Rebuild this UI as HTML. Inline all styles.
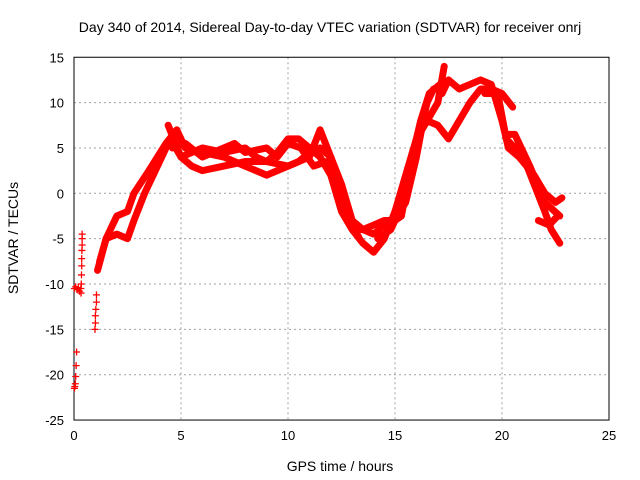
<!DOCTYPE html>
<html><head><meta charset="utf-8"><style>
body{margin:0;background:#fff}
svg{display:block;font-family:"Liberation Sans",sans-serif}
</style></head><body>
<svg id="chart" width="640" height="480" xmlns="http://www.w3.org/2000/svg">
<rect width="640" height="480" fill="#fff"/>
<text x="330" y="32" font-size="14" text-anchor="middle">Day 340 of 2014, Sidereal Day-to-day VTEC variation (SDTVAR) for receiver onrj</text>
<text x="340" y="471" font-size="14" text-anchor="middle">GPS time / hours</text>
<text transform="translate(18,238) rotate(-90)" font-size="14" text-anchor="middle">SDTVAR / TECUs</text>
<g id="grid"></g><g id="axes"></g><g id="marks"></g>
</svg>
<script>
const xTicks=[0,5,10,15,20,25];
const yTicks=[15,10,5,0,-5,-10,-15,-20,-25];
const trace1=[[1.2,-7.5],[1.5,-5],[2,-4.5],[2.5,-5],[2.8,-3],[3.3,0],[3.8,2.5],[4.2,4.5],[4.5,6],[5,4],[5.5,4.5],[6,5],[7,4.5],[8,5],[8.5,4],[9,3.5],[9.5,4.5],[10,6],[10.5,6],[11,5],[11.5,4],[12,2],[12.5,-2],[13,-4],[13.5,-5.5],[14,-6.5],[14.5,-5],[15,-2],[15.5,2],[16,6],[16.5,8],[17,10],[17.3,14]];
const trace2=[[1.1,-8.5],[1.5,-5],[2,-2.5],[2.5,-2],[2.8,0],[3.5,2.5],[4.3,5.5],[4.8,7],[5.2,5],[6,4.5],[7,4],[8,3],[9,2],[10,3],[10.5,3.5],[11,4.5],[11.5,5],[12,4],[12.5,0],[13,-4],[13.5,-4],[14,-3.5],[14.5,-3],[15,-3],[15.3,-2.5],[15.8,4],[16.2,7],[16.5,10],[16.8,11.5]];
const trace3=[[4.4,7.5],[5,4],[5.5,3],[6,2.5],[7,3],[8,3.5],[9,3.5],[10,3],[11,4],[11.5,7],[12,4],[12.5,1],[13,-3],[13.5,-4],[14,-4.5],[14.5,-3.5],[15,-3],[15.5,-1],[16,4],[16.4,9]];
const trace4=[[15.5,1],[16,6],[16.5,8],[17,7.5],[17.5,6],[18,8],[18.5,10],[19,11.5],[19.5,11.5],[20,11],[20.5,9.5]];
const trace5=[[17.2,11],[17.5,12.5],[18,11.5],[18.5,12],[19,12.5],[19.5,12],[20,8],[20.3,5],[20.8,4],[21.5,2],[22,0],[22.5,-1],[22.8,-0.5]];
const trace6=[[19.2,11],[19.8,11],[20.2,6],[21,4],[21.5,1],[22,-2],[22.3,-4],[22.7,-5.5]];
const trace7=[[20.2,6.5],[20.6,6.5],[21.3,3],[22,-1],[22.7,-2.5]];
const trace8=[[21.7,-3],[22.2,-3.5],[22.6,-2.5]];
const trace9=[[4.6,5],[5.2,5.5],[6,4],[7,5],[7.5,5.5],[8,4.5],[9,5],[9.5,4],[10,5.5],[10.6,5],[11.2,3],[11.8,3.5],[12.2,1.5],[12.8,-3],[13.3,-4.8]];
const trace10=[[14.2,-5],[14.8,-4],[15.2,-2],[15.6,2],[16.2,8],[16.6,11],[17.1,12]];
const traces=[trace1,trace2,trace3,trace4,trace5,trace6,trace7,trace8,trace9,trace10];
const scatterT=[0.02,0.08,0.14,0.2,0.26,0.32,0.38,0.38,0.38,0.37,0.36,0.36,0.35,0.34,0.33,1.05,1.05,1.02,1.0,1.0,0.98,0.12,0.1,0.08,0.06,0.04,0.02];
const scatterV=[-10.5,-10.3,-10.6,-10.4,-10.8,-10.5,-4.5,-5,-5.7,-6.3,-7.2,-8,-9,-10,-11,-11.2,-12,-12.8,-13.5,-14.3,-15,-17.5,-19,-20.2,-21,-21.3,-21.5];
const X=t=>74+21.4*t, Y=v=>193.3-9.07*v;
const NS='http://www.w3.org/2000/svg';
function mk(tag,attrs,parent){const e=document.createElementNS(NS,tag);for(const k in attrs)e.setAttribute(k,attrs[k]);parent.appendChild(e);return e;}
const grid=document.getElementById('grid'),axes=document.getElementById('axes'),marks=document.getElementById('marks');
const L=X(0),R=X(25),T=Y(15),B=Y(-25);
xTicks.forEach(t=>{
 if(t>0&&t<25){const g=mk('line',{x1:X(t),x2:X(t),y1:T,y2:B,stroke:'#a0a0a0','stroke-dasharray':'2,3'},grid);
 
 }
 const lb=mk('text',{x:X(t),y:B+20,'font-size':13,'text-anchor':'middle'},axes);lb.textContent=t;
 
 
});
yTicks.forEach(v=>{
 if(v<15&&v>-25){const g=mk('line',{x1:L,x2:R,y1:Y(v),y2:Y(v),stroke:'#a0a0a0','stroke-dasharray':'2,3'},grid);
 
 }
 const lb=mk('text',{x:L-10,y:Y(v)+5,'font-size':13,'text-anchor':'end'},axes);lb.textContent=v;
 
 
});
const fr=mk('rect',{x:L,y:T,width:R-L,height:B-T,fill:'none',stroke:'#000','stroke-width':1},axes);


traces.forEach((tr,i)=>{
 const p=mk('polyline',{points:tr.map(d=>X(d[0])+','+Y(d[1])).join(' '),fill:'none',stroke:'#ff0000','stroke-width':7,'stroke-linejoin':'round','stroke-linecap':'round'},marks);
 
 
});
scatterT.forEach((t,i)=>{
 const x=X(t),y=Y(scatterV[i]);
 const p=mk('path',{d:`M${x-3.5},${y}H${x+3.5}M${x},${y-3.5}V${y+3.5}`,stroke:'#ff0000','stroke-width':1.3,fill:'none'},marks);
 
 
});
</script>
</body></html>
